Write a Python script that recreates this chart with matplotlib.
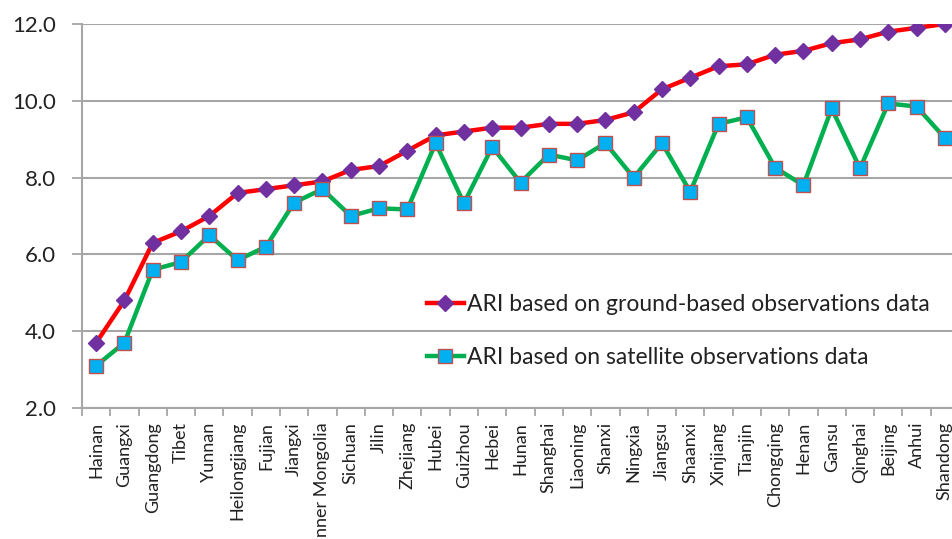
import matplotlib
matplotlib.use("Agg")
import matplotlib.pyplot as plt
import numpy as np

plt.rcParams['font.family'] = ['Lato', 'DejaVu Sans']

provinces = ['Hainan', 'Guangxi', 'Guangdong', 'Tibet', 'Yunnan', 'Heilongjiang',
             'Fujian', 'Jiangxi', 'Inner Mongolia', 'Sichuan', 'Jilin', 'Zhejiang',
             'Hubei', 'Guizhou', 'Hebei', 'Hunan', 'Shanghai', 'Liaoning', 'Shanxi',
             'Ningxia', 'Jiangsu', 'Shaanxi', 'Xinjiang', 'Tianjin', 'Chongqing',
             'Henan', 'Gansu', 'Qinghai', 'Beijing', 'Anhui', 'Shandong']

ari_ground = [3.7, 4.8, 6.3, 6.6, 7.0, 7.6, 7.7, 7.8, 7.9, 8.2, 8.3, 8.7,
              9.1, 9.2, 9.3, 9.3, 9.4, 9.4, 9.5, 9.7, 10.3, 10.6, 10.9, 10.95,
              11.2, 11.3, 11.5, 11.6, 11.8, 11.9, 12.0]

ari_satellite = [3.1, 3.7, 5.6, 5.8, 6.5, 5.85, 6.2, 7.35, 7.7, 7.0, 7.2, 7.17,
                 8.9, 7.33, 8.8, 7.87, 8.6, 8.45, 8.9, 8.0, 8.9, 7.63, 9.4, 9.57,
                 8.26, 7.8, 9.8, 8.24, 9.93, 9.85, 9.03]

yticks = [2.0, 4.0, 6.0, 8.0, 10.0, 12.0]

fig = plt.figure(figsize=(9.52, 5.39), dpi=100)
ax = fig.add_axes([82 / 952, 1 - 408 / 539, (959 - 82) / 952, (408 - 24) / 539])

x = np.arange(len(provinces))

ax.plot(x, ari_ground, color='#FF0000', lw=3.2, marker='D', ms=8,
        mfc='#7030A0', mec='#7030A0', zorder=3,
        label='ARI based on ground-based observations data')
ax.plot(x, ari_satellite, color='#00B050', lw=3.2, marker='s', ms=10,
        mfc='#00B0F0', mec='#C0504D', mew=1.0, zorder=3,
        label='ARI based on satellite observations data')

ax.set_xlim(-0.5, len(provinces) - 0.5)
ax.set_ylim(2, 12)
ax.set_yticks(yticks)
ax.set_yticklabels([f'{v:.1f}' for v in yticks], fontsize=16, color='#222222')
ax.yaxis.grid(True, color='#A6A6A6', lw=1.5)
ax.set_axisbelow(True)

# category labels sit under the ticks, separators between categories
ax.set_xticks(x)
ax.set_xticklabels(provinces, rotation=90, fontsize=13, color='#222222')
ax.set_xticks(np.arange(len(provinces) + 1) - 0.5, minor=True)
ax.tick_params(axis='x', which='major', length=0, pad=10)
ax.tick_params(axis='x', which='minor', length=6, width=1.3, color='#A6A6A6')
ax.tick_params(axis='y', length=7, width=1.3, color='#A6A6A6', pad=12)

for s in ['top', 'right']:
    ax.spines[s].set_visible(False)
for s in ['left', 'bottom']:
    ax.spines[s].set_color('#A6A6A6')
    ax.spines[s].set_linewidth(1.5)

ax.legend(loc='upper left', bbox_to_anchor=(427 / 952, 1 - 294 / 539),
          bbox_transform=fig.transFigure, frameon=False, fontsize=16.5,
          handlelength=1.6, handletextpad=0.15, labelspacing=1.4,
          borderaxespad=0, borderpad=0, labelcolor='#222222')

fig.savefig('out.png', dpi=100)
